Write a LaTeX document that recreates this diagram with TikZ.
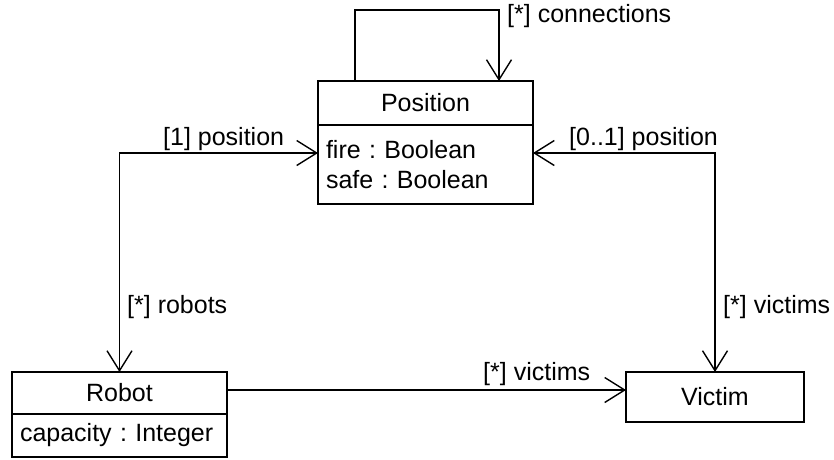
\documentclass[tikz,border=0pt]{standalone}
\usepackage{fontspec}
\setmainfont{Liberation Sans}
\frenchspacing
\usetikzlibrary{positioning,arrows.meta}

\tikzset{
  classhead/.style={draw, line width=1.4pt, outer sep=0pt, inner sep=0pt, minimum width=215pt},
  classbody/.style={draw, line width=1.4pt, outer sep=0pt, inner xsep=8pt, inner ysep=0pt, text width=199pt, align=left},
  assoc/.style={line width=1.4pt, -{Straight Barb[length=20pt, width=25pt]}},
  assocboth/.style={line width=1.4pt, {Straight Barb[length=20pt, width=25pt]}-{Straight Barb[length=20pt, width=25pt]}},
  rolelabel/.style={anchor=base west, inner sep=0pt}
}

\begin{document}
\begin{tikzpicture}[x=1pt, y=-1pt, font=\fontsize{25}{29.5}\selectfont]
\useasboundingbox (0,0) rectangle (834,459);
% Position
\node[classhead, minimum height=44pt] (position) at (425.5,103) {Position};
\node[classbody, minimum height=79pt, below=0pt of position] (positionattr) {fire : Boolean\\safe : Boolean};
% Robot
\node[classhead, minimum height=42pt] (robot) at (119.5,393) {Robot};
\node[classbody, minimum height=43pt, below=0pt of robot] (robotattr) {capacity : Integer};
% Victim
\node[classhead, minimum width=178pt, minimum height=50pt] (victim) at (715,397) {Victim};

% associations
\coordinate (assocrow) at (0,153);
\coordinate (loopleft) at (355,10);
\coordinate (loopright) at (499,10);
\draw[assoc] (position.north -| loopleft) -- (loopleft) -- (loopright) -- (position.north -| loopright);
\draw[assocboth] (robot.north) |- (positionattr.west |- assocrow);
\draw[assocboth] (victim.north) |- (positionattr.east |- assocrow);
\draw[assoc] ([yshift=3pt]robot.east) -- ([yshift=3pt]robot.east -| victim.west);

% role names
\node[rolelabel] (connlabel) at (507,22) {[*] connections};
\node[rolelabel] (robotpos) at (163,145) {[1] position};
\node[rolelabel] (victimpos) at (569,145) {[0..1] position};
\node[rolelabel] (robotslabel) at (127,313) {[*] robots};
\node[rolelabel] (victimslabel) at (723,313) {[*] victims};
\node[rolelabel] (robotvictims) at (483,380) {[*] victims};
\end{tikzpicture}
\end{document}
